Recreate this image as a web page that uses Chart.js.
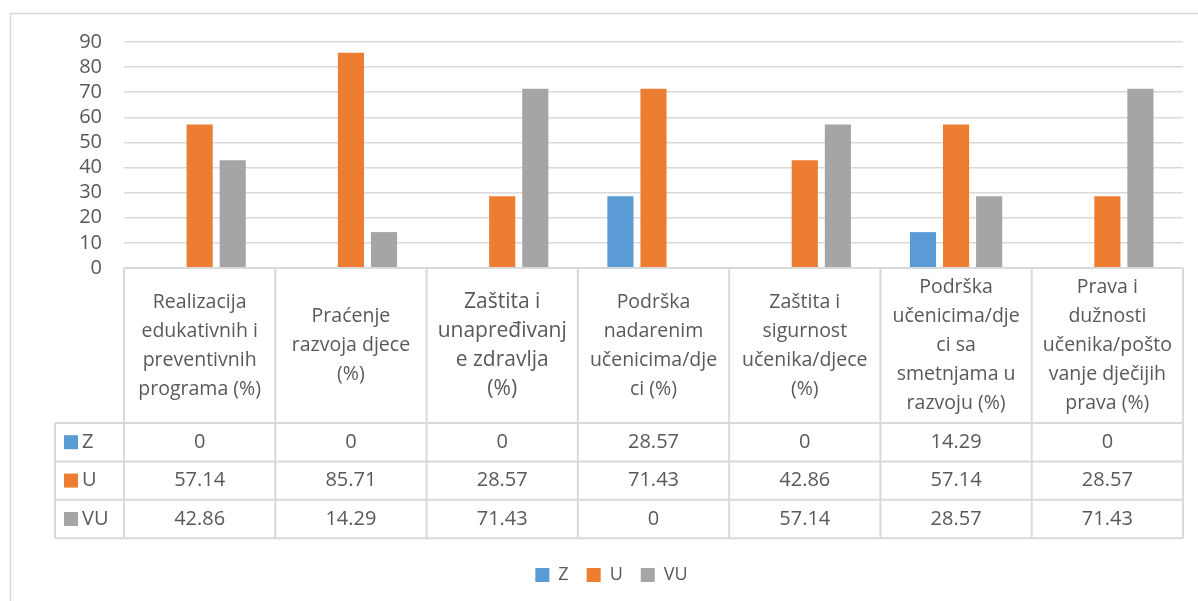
<!DOCTYPE html>
<html>
<head>
<meta charset="utf-8">
<script src="https://cdn.jsdelivr.net/npm/chart.js@4.4.0/dist/chart.umd.min.js"></script>
<style>
    html, body { margin: 0; padding: 0; background: #fff; }
    #wrap { width: 1198px; height: 601px; }
</style>
</head>
<body>
<div id="wrap"><canvas id="myChart"></canvas></div>
<script>
// data
const categories = [
    ['Realizacija', 'edukativnih i', 'preventivnih', 'programa (%)'],
    ['Praćenje', 'razvoja djece', '(%)'],
    ['Zaštita i', 'unapređivanj', 'e zdravlja', '(%)'],
    ['Podrška', 'nadarenim', 'učenicima/dje', 'ci (%)'],
    ['Zaštita i', 'sigurnost', 'učenika/djece', '(%)'],
    ['Podrška', 'učenicima/dje', 'ci sa', 'smetnjama u', 'razvoju (%)'],
    ['Prava i', 'dužnosti', 'učenika/pošto', 'vanje dječijih', 'prava (%)']
]
const seriesNames = ['Z', 'U', 'VU']
const zValues = [0, 0, 0, 28.57, 0, 14.29, 0]
const uValues = [57.14, 85.71, 28.57, 71.43, 42.86, 57.14, 28.57]
const vuValues = [42.86, 14.29, 71.43, 0, 57.14, 28.57, 71.43]
const yMin = 0
const yMax = 90
const yStep = 10

const colors = ['#5b9bd5', '#ed7d31', '#a5a5a5']
const textColor = '#595959'
const lineColor = '#d9d9d9'
const fontFamily = '"Open Sans", "Noto Sans", sans-serif'

// data table under the plot, drawn from the x scale
const tablePlugin = {
    id: 'dataTable',
    beforeDraw(chart) {
        const ctx = chart.ctx
        ctx.save()
        ctx.strokeStyle = lineColor
        ctx.lineWidth = 1.5
        ctx.strokeRect(10.5, 13.5, 1400, 800)
        ctx.restore()
    },
    afterDraw(chart) {
        const ctx = chart.ctx
        const xs = chart.scales.x
        const area = chart.chartArea
        const top = area.bottom
        const headerH = 155
        const rowH = 38.4
        const half = (xs.getPixelForValue(1) - xs.getPixelForValue(0)) / 2
        const left = xs.getPixelForValue(0) - half
        const right = xs.getPixelForValue(categories.length - 1) + half
        const keyLeft = left - 69
        const rowsTop = top + headerH
        const bottom = rowsTop + rowH * 3
        const rows = [zValues, uValues, vuValues]

        ctx.save()
        ctx.strokeStyle = lineColor
        ctx.lineWidth = 2
        ctx.beginPath()
        ctx.moveTo(left, top); ctx.lineTo(right, top)
        for (let r = 0; r <= 3; r++) {
            const y = rowsTop + r * rowH
            ctx.moveTo(keyLeft, y); ctx.lineTo(right, y)
        }
        ctx.moveTo(keyLeft, rowsTop); ctx.lineTo(keyLeft, bottom)
        for (let i = 0; i <= categories.length; i++) {
            const x = left + i * half * 2
            ctx.moveTo(x, top); ctx.lineTo(x, bottom)
        }
        ctx.stroke()

        ctx.fillStyle = textColor
        ctx.textAlign = 'center'
        ctx.textBaseline = 'middle'
        const lh = 29
        categories.forEach((lines, i) => {
            const cx = xs.getPixelForValue(i)
            ctx.font = (i === 2 ? '21px ' : '19.5px ') + fontFamily
            const y0 = top + headerH / 2 - (lines.length - 1) * lh / 2
            lines.forEach((t, k) => ctx.fillText(t, cx, y0 + k * lh))
        })

        ctx.font = '20px ' + fontFamily
        rows.forEach((vals, r) => {
            const cy = rowsTop + r * rowH + rowH / 2
            vals.forEach((v, i) => {
                ctx.fillStyle = textColor
                ctx.fillText(String(v), xs.getPixelForValue(i), cy)
            })
            ctx.fillStyle = colors[r]
            ctx.fillRect(keyLeft + 9, cy - 7, 14, 14)
            ctx.fillStyle = textColor
            ctx.textAlign = 'left'
            ctx.fillText(seriesNames[r], keyLeft + 27, cy)
            ctx.textAlign = 'center'
        })
        ctx.restore()
    }
}

const data = {
    labels: categories.map(c => c.join(' ')),
    datasets: [
        { label: seriesNames[0], data: zValues, backgroundColor: colors[0] },
        { label: seriesNames[1], data: uValues, backgroundColor: colors[1] },
        { label: seriesNames[2], data: vuValues, backgroundColor: colors[2] }
    ]
}

const config = {
    type: 'bar',
    data: data,
    plugins: [tablePlugin],
    options: {
        responsive: true,
        maintainAspectRatio: false,
        animation: false,
        categoryPercentage: 0.656,
        barPercentage: 0.79,
        layout: { padding: { top: 42, right: 15, left: 40, bottom: 7 } },
        plugins: {
            tooltip: { enabled: false },
            legend: {
                position: 'bottom',
                labels: {
                    boxWidth: 14,
                    boxHeight: 14,
                    padding: 18,
                    color: textColor,
                    font: { family: fontFamily, size: 18 }
                }
            }
        },
        scales: {
            x: {
                grid: { display: false },
                border: { display: false },
                ticks: { display: false },
                afterFit: scale => { scale.height = 280 }
            },
            y: {
                min: yMin,
                max: yMax,
                ticks: {
                    stepSize: yStep,
                    autoSkip: false,
                    padding: 22,
                    color: textColor,
                    font: { family: fontFamily, size: 20 }
                },
                grid: { color: lineColor, lineWidth: 1.5, drawTicks: false },
                border: { display: false },
                afterFit: scale => { scale.width = 84 }
            }
        }
    }
}

const myChart = new Chart(document.getElementById('myChart'), config)
</script>
</body>
</html>
